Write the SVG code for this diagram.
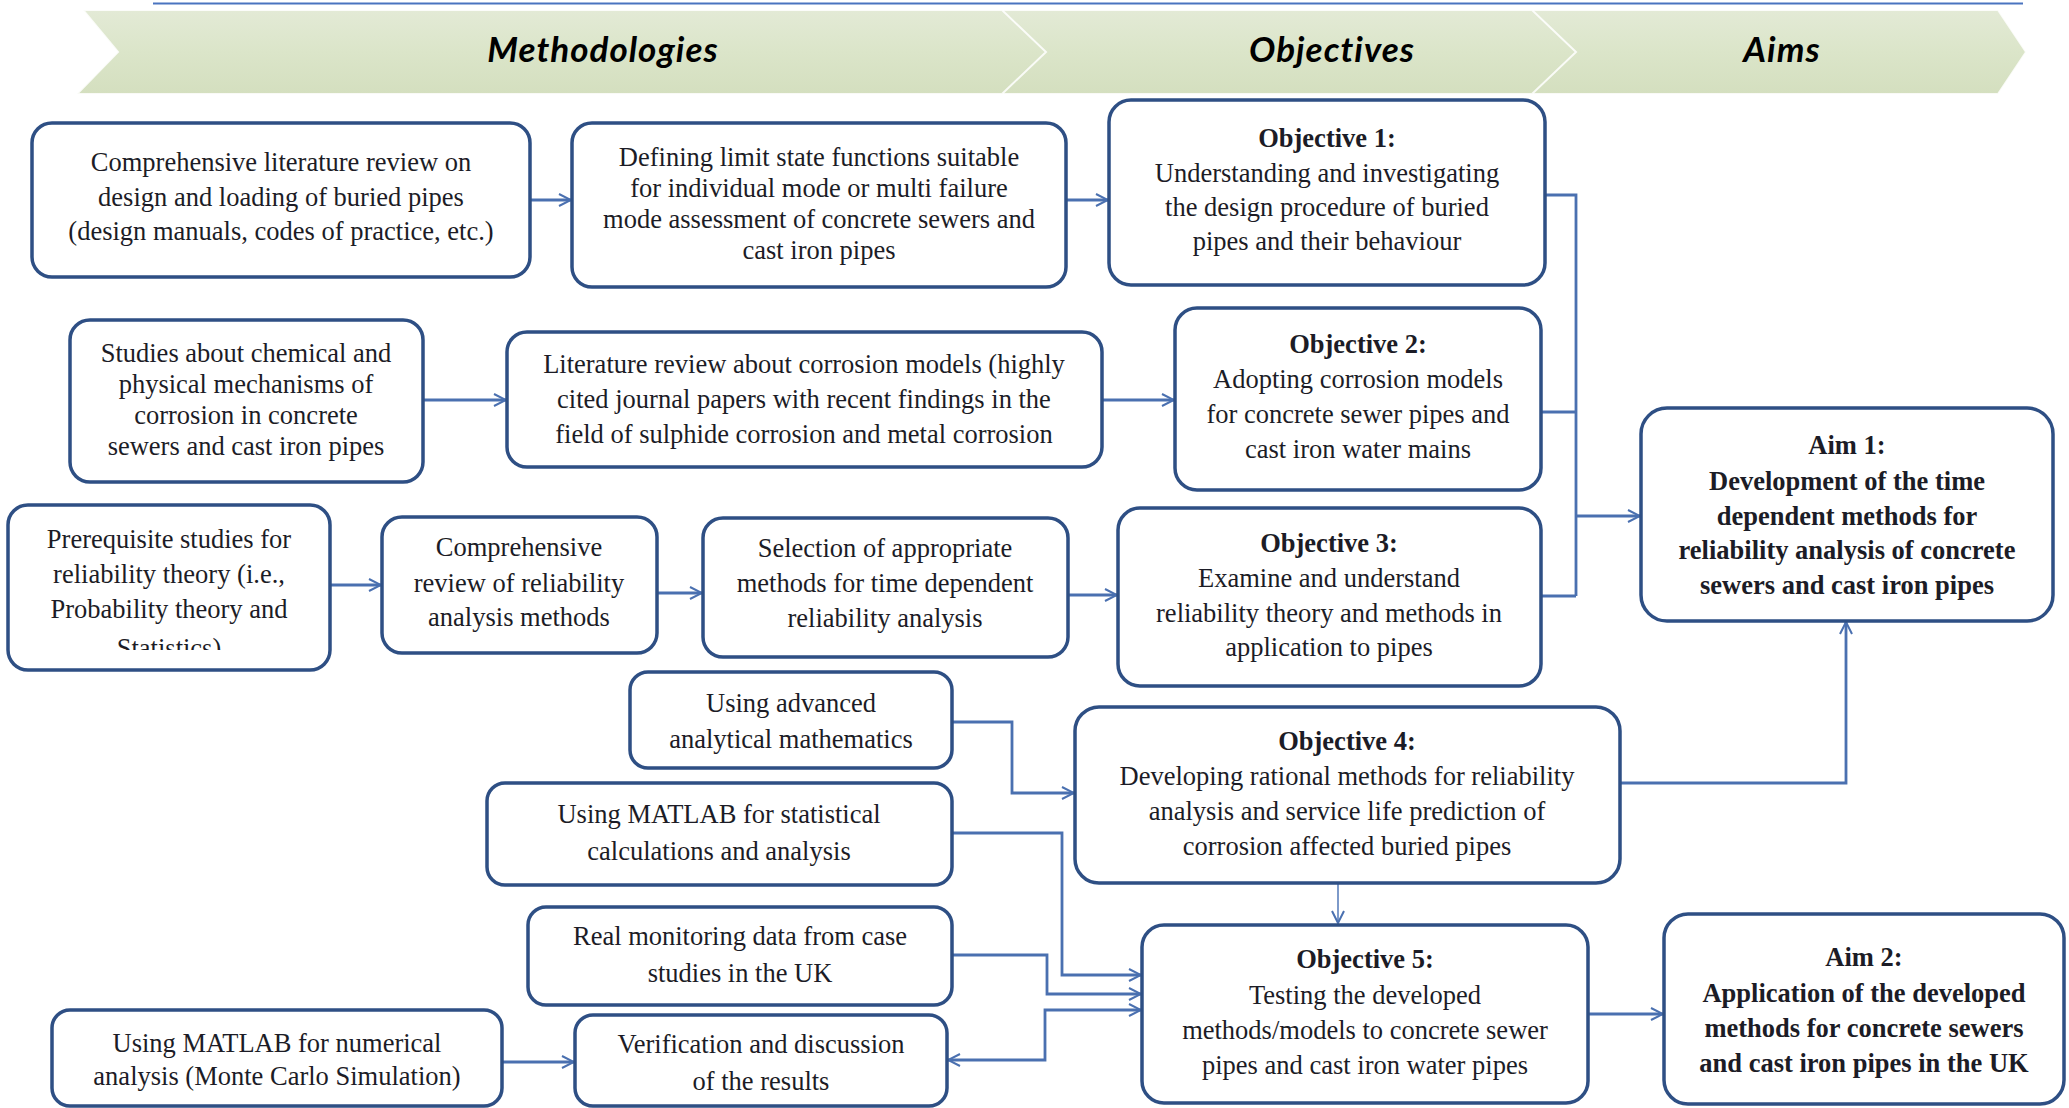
<svg xmlns="http://www.w3.org/2000/svg" width="2069" height="1108" viewBox="0 0 2069 1108">
<style>
  .box { fill: #ffffff; stroke: #2e4f84; stroke-width: 3.5; }
  .t { font-family: "Liberation Serif", "Times New Roman", serif; font-size: 26.5px; fill: #1c1c26; text-anchor: middle; }
  .b { font-weight: bold; }
  .hdr { font-family: Lato, "Open Sans", sans-serif; font-style: italic; font-weight: bold; font-size: 35px; letter-spacing: 1px; fill: #000; text-anchor: middle; }
  .seg { fill: url(#bannerFill); stroke: #ffffff; stroke-width: 2; stroke-opacity: 0.85; }
  .con { fill: none; stroke: #4a70b0; stroke-width: 2.8; }
  .thin { fill: none; stroke: #6f8fc4; stroke-width: 1.8; }
</style>
<defs>
  <linearGradient id="bannerFill" x1="0" y1="0" x2="0" y2="1">
    <stop offset="0" stop-color="#e3ead6"/>
    <stop offset="0.5" stop-color="#dbe5c9"/>
    <stop offset="1" stop-color="#d4dfbf"/>
  </linearGradient>
  <marker id="arr" viewBox="0 0 14 14" refX="13" refY="7" markerWidth="14" markerHeight="14" markerUnits="userSpaceOnUse" orient="auto-start-reverse">
    <path d="M1,1 L13,7 L1,13" fill="none" stroke="#4a70b0" stroke-width="2"/>
  </marker>
  <clipPath id="clipC1"><rect x="8" y="505" width="322" height="145"/></clipPath>
</defs>
<rect x="0" y="0" width="2069" height="1108" fill="#ffffff"/>

<g id="header">
  <line x1="153" y1="3.5" x2="2023" y2="3.5" stroke="#4a74c0" stroke-width="2"/>
  <polygon class="seg" points="1530,10 1998,10 2026,52 1998,94 1530,94 1574,52"/>
  <polygon class="seg" points="1000,10 1532,10 1576,52 1532,94 1000,94 1044,52"/>
  <polygon class="seg" points="83,10 1002,10 1046,52 1002,94 77,94 118,52"/>
  <text class="hdr" x="603" y="62">Methodologies</text>
  <text class="hdr" x="1332" y="62">Objectives</text>
  <text class="hdr" x="1782" y="62">Aims</text>
</g>

<g id="connectors">
  <line class="con" x1="530" y1="200" x2="571" y2="200" marker-end="url(#arr)"/>
  <line class="con" x1="1066" y1="200" x2="1108" y2="200" marker-end="url(#arr)"/>
  <line class="con" x1="423" y1="400" x2="506" y2="400" marker-end="url(#arr)"/>
  <line class="con" x1="1102" y1="400" x2="1174" y2="400" marker-end="url(#arr)"/>
  <line class="con" x1="330" y1="585" x2="381" y2="585" marker-end="url(#arr)"/>
  <line class="con" x1="657" y1="593" x2="702" y2="593" marker-end="url(#arr)"/>
  <line class="con" x1="1068" y1="595" x2="1117" y2="595" marker-end="url(#arr)"/>
  <polyline class="con" points="1545,195 1576,195 1576,596"/>
  <line class="con" x1="1541" y1="412" x2="1576" y2="412"/>
  <line class="con" x1="1541" y1="596" x2="1576" y2="596"/>
  <line class="con" x1="1576" y1="516" x2="1640" y2="516" marker-end="url(#arr)"/>
  <polyline class="con" points="952,722 1012,722 1012,793 1074,793" marker-end="url(#arr)"/>
  <polyline class="con" points="1620,783 1846,783 1846,622" marker-end="url(#arr)"/>
  <line class="thin" x1="1338" y1="884" x2="1338" y2="923" marker-end="url(#arr)"/>
  <polyline class="con" points="952,833 1062,833 1062,975 1141,975" marker-end="url(#arr)"/>
  <polyline class="con" points="952,955 1047,955 1047,994 1141,994" marker-end="url(#arr)"/>
  <polyline class="con" points="948,1060 1045,1060 1045,1010 1141,1010" marker-start="url(#arr)" marker-end="url(#arr)"/>
  <line class="con" x1="502" y1="1062" x2="574" y2="1062" marker-end="url(#arr)"/>
  <line class="con" x1="1588" y1="1014" x2="1663" y2="1014" marker-end="url(#arr)"/>
</g>

<g id="m1">
  <rect class="box" x="32" y="123" width="498" height="154" rx="20"/>
  <text class="t" x="281" y="171">Comprehensive literature review on</text>
  <text class="t" x="281" y="206">design and loading of buried pipes</text>
  <text class="t" x="281" y="240">(design manuals, codes of practice, etc.)</text>
</g>
<g id="m2">
  <rect class="box" x="572" y="123" width="494" height="164" rx="20"/>
  <text class="t" x="819" y="166">Defining limit state functions suitable</text>
  <text class="t" x="819" y="197">for individual mode or multi failure</text>
  <text class="t" x="819" y="228">mode assessment of concrete sewers and</text>
  <text class="t" x="819" y="259">cast iron pipes</text>
</g>
<g id="obj1">
  <rect class="box" x="1109" y="100" width="436" height="185" rx="22"/>
  <text class="t b" x="1327" y="147">Objective 1:</text>
  <text class="t" x="1327" y="182">Understanding and investigating</text>
  <text class="t" x="1327" y="216">the design procedure of buried</text>
  <text class="t" x="1327" y="250">pipes and their behaviour</text>
</g>
<g id="m3">
  <rect class="box" x="70" y="320" width="353" height="162" rx="20"/>
  <text class="t" x="246" y="362">Studies about chemical and</text>
  <text class="t" x="246" y="393">physical mechanisms of</text>
  <text class="t" x="246" y="424">corrosion in concrete</text>
  <text class="t" x="246" y="455">sewers and cast iron pipes</text>
</g>
<g id="m4">
  <rect class="box" x="507" y="332" width="595" height="135" rx="20"/>
  <text class="t" x="804" y="373">Literature review about corrosion models (highly</text>
  <text class="t" x="804" y="408">cited journal papers with recent findings in the</text>
  <text class="t" x="804" y="443">field of sulphide corrosion and metal corrosion</text>
</g>
<g id="obj2">
  <rect class="box" x="1175" y="308" width="366" height="182" rx="22"/>
  <text class="t b" x="1358" y="353">Objective 2:</text>
  <text class="t" x="1358" y="388">Adopting corrosion models</text>
  <text class="t" x="1358" y="423">for concrete sewer pipes and</text>
  <text class="t" x="1358" y="458">cast iron water mains</text>
</g>
<g id="m5">
  <rect class="box" x="8" y="505" width="322" height="165" rx="20"/>
  <g clip-path="url(#clipC1)">
    <text class="t" x="169" y="548">Prerequisite studies for</text>
    <text class="t" x="169" y="583">reliability theory (i.e.,</text>
    <text class="t" x="169" y="618">Probability theory and</text>
    <text class="t" x="169" y="657">Statistics)</text>
  </g>
</g>
<g id="m6">
  <rect class="box" x="382" y="517" width="275" height="136" rx="20"/>
  <text class="t" x="519" y="556">Comprehensive</text>
  <text class="t" x="519" y="592">review of reliability</text>
  <text class="t" x="519" y="626">analysis methods</text>
</g>
<g id="m7">
  <rect class="box" x="703" y="518" width="365" height="139" rx="20"/>
  <text class="t" x="885" y="557">Selection of appropriate</text>
  <text class="t" x="885" y="592">methods for time dependent</text>
  <text class="t" x="885" y="627">reliability analysis</text>
</g>
<g id="obj3">
  <rect class="box" x="1118" y="508" width="423" height="178" rx="22"/>
  <text class="t b" x="1329" y="552">Objective 3:</text>
  <text class="t" x="1329" y="587">Examine and understand</text>
  <text class="t" x="1329" y="622">reliability theory and methods in</text>
  <text class="t" x="1329" y="656">application to pipes</text>
</g>
<g id="aim1">
  <rect class="box" x="1641" y="408" width="412" height="213" rx="26"/>
  <text class="t b" x="1847" y="454">Aim 1:</text>
  <text class="t b" x="1847" y="490">Development of the time</text>
  <text class="t b" x="1847" y="525">dependent methods for</text>
  <text class="t b" x="1847" y="559">reliability analysis of concrete</text>
  <text class="t b" x="1847" y="594">sewers and cast iron pipes</text>
</g>
<g id="m8">
  <rect class="box" x="630" y="672" width="322" height="96" rx="18"/>
  <text class="t" x="791" y="712">Using advanced</text>
  <text class="t" x="791" y="748">analytical mathematics</text>
</g>
<g id="obj4">
  <rect class="box" x="1075" y="707" width="545" height="176" rx="24"/>
  <text class="t b" x="1347" y="750">Objective 4:</text>
  <text class="t" x="1347" y="785">Developing rational methods for reliability</text>
  <text class="t" x="1347" y="820">analysis and service life prediction of</text>
  <text class="t" x="1347" y="855">corrosion affected buried pipes</text>
</g>
<g id="m9">
  <rect class="box" x="487" y="783" width="465" height="102" rx="18"/>
  <text class="t" x="719" y="823">Using MATLAB for statistical</text>
  <text class="t" x="719" y="860">calculations and analysis</text>
</g>
<g id="m10">
  <rect class="box" x="528" y="907" width="424" height="98" rx="18"/>
  <text class="t" x="740" y="945">Real monitoring data from case</text>
  <text class="t" x="740" y="982">studies in the UK</text>
</g>
<g id="obj5">
  <rect class="box" x="1142" y="925" width="446" height="178" rx="22"/>
  <text class="t b" x="1365" y="968">Objective 5:</text>
  <text class="t" x="1365" y="1004">Testing the developed</text>
  <text class="t" x="1365" y="1039">methods/models to concrete sewer</text>
  <text class="t" x="1365" y="1074">pipes and cast iron water pipes</text>
</g>
<g id="aim2">
  <rect class="box" x="1664" y="914" width="400" height="190" rx="24"/>
  <text class="t b" x="1864" y="966">Aim 2:</text>
  <text class="t b" x="1864" y="1002">Application of the developed</text>
  <text class="t b" x="1864" y="1037">methods for concrete sewers</text>
  <text class="t b" x="1864" y="1072">and cast iron pipes in the UK</text>
</g>
<g id="m11">
  <rect class="box" x="52" y="1010" width="450" height="96" rx="18"/>
  <text class="t" x="277" y="1052">Using MATLAB for numerical</text>
  <text class="t" x="277" y="1085">analysis (Monte Carlo Simulation)</text>
</g>
<g id="m12">
  <rect class="box" x="575" y="1015" width="372" height="91" rx="18"/>
  <text class="t" x="761" y="1053">Verification and discussion</text>
  <text class="t" x="761" y="1090">of the results</text>
</g>
</svg>
